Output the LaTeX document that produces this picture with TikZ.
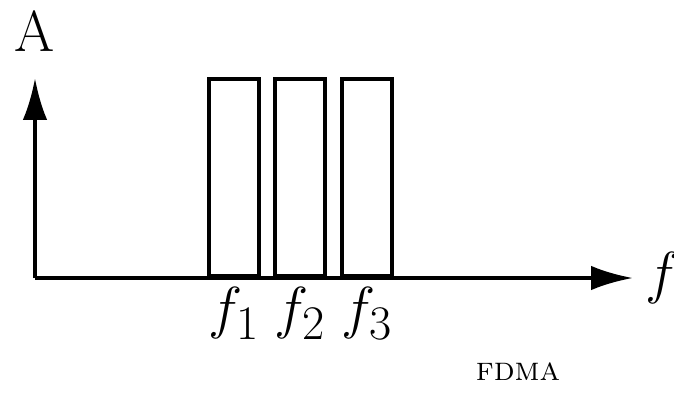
\documentclass[tikz,border=0pt]{standalone}
\usetikzlibrary{arrows.meta,positioning}

\begin{document}
\begin{tikzpicture}[
  x=0.43pt, y=-0.43pt,
  axis/.style={line width=1.7pt, -{Latex[length=18pt, width=10.5pt]}},
  band/.style={rectangle, draw, line width=1.6pt, inner sep=0pt,
               minimum width=21.5pt, minimum height=84.7pt, anchor=south},
  lab/.style={font=\Huge, inner sep=1pt}
]
\useasboundingbox (0,0) rectangle (674,396);

\coordinate (O)    at (35,278);
\coordinate (ytip) at (35,78);
\coordinate (xtip) at (633,278);

\node[band] (b1) at (234,278) {};
\node[band] (b2) at (300,278) {};
\node[band] (b3) at (367,278) {};

\draw[axis] (O) -- (ytip);
\draw[axis] (O) -- (xtip);

\node[lab, above=10pt of ytip] (A) {A};
\node[lab, right=4pt of xtip] (f) {$f$};

\node[lab, below=3pt of b1] (f1) {$f_1$};
\node[lab, below=3pt of b2] (f2) {$f_2$};
\node[lab, below=3pt of b3] (f3) {$f_3$};

\node[font=\Large] (cap) at (518,372) {\textsc{fdma}};

\end{tikzpicture}
\end{document}
